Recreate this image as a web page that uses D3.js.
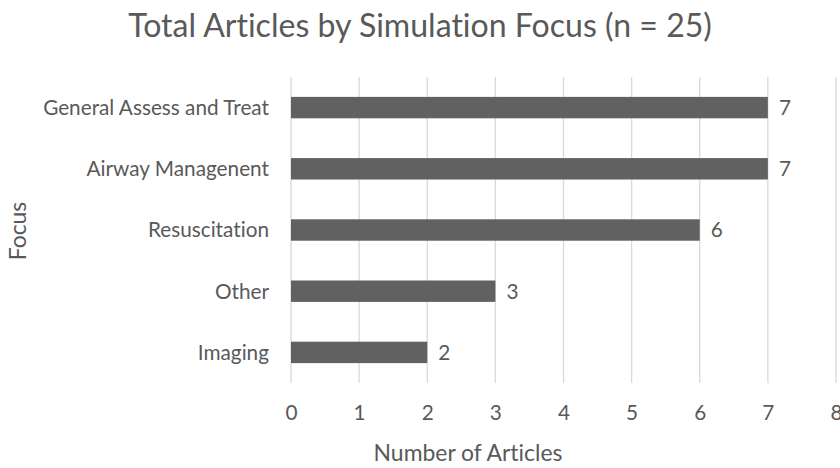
<!DOCTYPE html>
<html>
<head>
<meta charset="utf-8">
<script src="https://cdn.jsdelivr.net/npm/d3@7"></script>
<style>
  html, body { margin: 0; padding: 0; background: #fff; }
  text { font-family: Lato, "Open Sans", sans-serif; fill: #595959; font-variant-ligatures: none; font-feature-settings: "liga" 0, "clig" 0; }
</style>
</head>
<body>
<svg id="chart" width="840" height="468"></svg>
<script>
const categories = ["General Assess and Treat", "Airway Managenent", "Resuscitation", "Other", "Imaging"];
const values = [7, 7, 6, 3, 2];
const xTicks = [0, 1, 2, 3, 4, 5, 6, 7, 8];
const titleText = "Total Articles by Simulation Focus (n = 25)";
const xTitle = "Number of Articles";
const yTitle = "Focus";

const svg = d3.select("#chart");
const W = 840, H = 468;
const m = { left: 291, right: 4, top: 77, bottom: 85 };
const FONT = 'Lato, "Open Sans", sans-serif';

// size text so its rendered width matches the reference width
function fitSize(str, targetWidth) {
  const t = svg.append("text").attr("font-size", 100).style("font-family", FONT).text(str);
  const w = t.node().getComputedTextLength();
  t.remove();
  return 100 * targetWidth / w;
}
const titleSize = fitSize(titleText, 584);
const labelSize = fitSize(categories[0], 226);
const axisTitleSize = fitSize(xTitle, 189);

const x = d3.scaleLinear().domain([0, 8]).range([m.left, W - m.right]);
const y = d3.scaleBand().domain(categories).range([m.top, H - m.bottom]).paddingInner(0.65).paddingOuter(0.325);

svg.append("rect").attr("width", W).attr("height", H).attr("fill", "#fff");

// gridlines
svg.append("g").selectAll("line").data(xTicks).join("line")
  .attr("x1", d => x(d)).attr("x2", d => x(d))
  .attr("y1", m.top).attr("y2", H - m.bottom)
  .attr("stroke", "#d9d9d9").attr("stroke-width", 1.3);

// bars
svg.append("g").selectAll("rect").data(categories).join("rect")
  .attr("x", x(0))
  .attr("y", d => y(d))
  .attr("width", (d, i) => x(values[i]) - x(0))
  .attr("height", y.bandwidth())
  .attr("fill", "#616161");

// value labels
svg.append("g").selectAll("text").data(categories).join("text")
  .attr("x", (d, i) => x(values[i]) + 11)
  .attr("y", d => y(d) + y.bandwidth() / 2)
  .attr("dy", "0.36em")
  .attr("font-size", labelSize)
  .text((d, i) => values[i]);

// x axis labels
const xAxis = d3.axisBottom(x).tickValues(xTicks).tickSize(0).tickPadding(0);
const gx = svg.append("g").attr("transform", `translate(0,${H - m.bottom})`).call(xAxis);
gx.select(".domain").remove();
gx.selectAll("text").attr("y", 37).attr("dy", 0).attr("font-size", labelSize)
  .style("font-family", FONT).attr("fill", "#595959");

// y axis labels
const yAxis = d3.axisLeft(y).tickSize(0).tickPadding(0);
const gy = svg.append("g").attr("transform", `translate(${m.left - 22},0)`).call(yAxis);
gy.select(".domain").remove();
gy.selectAll("text").attr("font-size", labelSize).attr("dy", "0.36em")
  .style("font-family", FONT).attr("fill", "#595959");

// title
svg.append("text").attr("x", 420).attr("y", 37).attr("text-anchor", "middle")
  .attr("font-size", titleSize).text(titleText);

// axis titles
svg.append("text").attr("x", 468).attr("y", 461).attr("text-anchor", "middle")
  .attr("font-size", axisTitleSize).text(xTitle);
svg.append("text").attr("transform", "translate(26,231) rotate(-90)").attr("text-anchor", "middle")
  .attr("font-size", axisTitleSize).text(yTitle);
</script>
</body>
</html>
